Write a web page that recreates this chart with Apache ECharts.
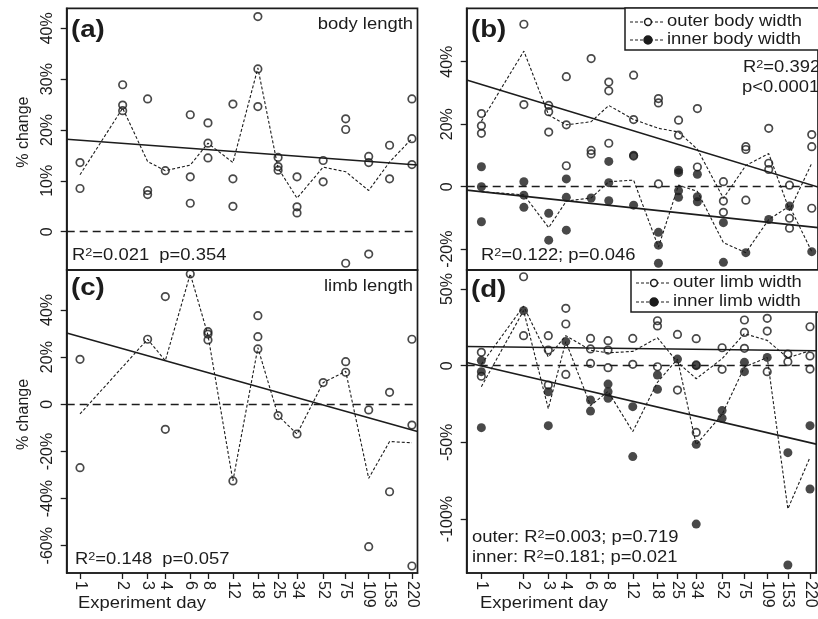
<!DOCTYPE html>
<html>
<head>
<meta charset="utf-8">
<script src="https://cdn.jsdelivr.net/npm/echarts@6/dist/echarts.min.js"></script>
<style>
  html, body { margin: 0; padding: 0; background: #fff; }
  #chart { width: 818px; height: 619px; }
</style>
</head>
<body>
<div id="chart"></div>
<script>
// experiment days (x axis is logarithmic)
const days = [1, 2, 3, 4, 6, 8, 12, 18, 25, 34, 52, 75, 109, 153, 220];

// (a) body length, % change per day
const bodyLength = [
  [13.6, 8.5], [28.9, 24.9, 23.8], [26.1, 8.1, 7.3], [12.0], [23.0, 10.8, 5.6],
  [21.4, 17.4, 14.5], [25.1, 10.4, 5.0], [42.3, 32.0, 24.6], [14.6, 12.8, 12.1], [10.8, 4.9, 3.7],
  [14.0, 9.8], [22.2, 20.1, -6.2], [14.8, 13.6, -4.4], [17.0, 10.4], [26.1, 18.3, 13.2]
];
const bodyLengthMean = [11.2, 24.3, 13.8, 12.0, 13.1, 17.4, 13.6, 32.2, 12.5, 6.6, 12.7, 11.8, 8.1, 13.7, 18.3];
const bodyLengthFit = [18.0, 13.2];   // fitted value at day 1 and day 220

// (b) outer / inner body width
const outerBody = [
  [23.4, 19.5, 17.1], [52.0, 26.3], [26.0, 24.0, 17.5], [35.2, 19.8, 6.7], [41.0, 11.6, 10.5],
  [33.5, 30.7, 13.9], [35.7, 21.5, 9.8], [28.2, 26.8, 0.9], [21.3, 16.5], [25.0, 6.3],
  [1.6, -4.6, -8.2], [12.8, 11.9, -4.3], [18.7, 7.5, 5.5], [0.5, -10.1, -13.3], [16.7, 12.8, -6.9]
];
const outerBodyMean = [21.0, 43.4, 22.9, 19.8, 20.8, 26.0, 21.5, 18.7, 17.5, 12.0, -3.7, 6.8, 10.6, -7.6, 7.5];
const outerBodyFit = [32.7, 0.5];
const innerBody = [
  [6.4, 0, -11.2], [1.6, -2.7, -6.6], [-8.5, -17.1], [2.5, -3.4, -13.9], [-3.6],
  [8.1, 1.3, -4.5], [10.1, -5.9], [-14.6, -18.7, -24.5], [5.3, 4.5, -1.3, -3.4], [4.0, -3.2, -4.8],
  [-11.5, -24.2], [-21.1], [-10.5], [-6.2], [-20.8]
];
const innerBodyMean = [-1.6, -2.6, -13.1, -4.6, -3.6, 1.6, 2.1, -19.3, 0.5, -1.5, -17.9, -21.1, -10.5, -6.2, -20.8];
const innerBodyFit = [-1.6, -12.9];

// (c) limb length (no measurement on day 2)
const limbLength = [
  [19.1, -26.9], [], [27.6], [45.7, -10.6], [55.3],
  [30.8, 29.8, 27.3], [-32.5], [37.6, 28.7, 23.5], [-4.8], [-12.6],
  [9.2], [18.1, 13.6], [-2.4, -60.4], [5.1, -37.1], [27.6, -8.8, -68.6]
];
const limbLengthMean = [-4.1, null, 27.6, 18.5, 55.3, 29.3, -32.5, 24.0, -4.8, -12.6, 9.2, 14.0, -31.4, -15.8, -16.3];
const limbLengthFit = [28.7, -10.9];

// (d) outer / inner limb width
const outerLimb = [
  [8.7, -6.9], [58.0, 19.6], [19.6, 10.2, -12.6], [37.4, 27.2, -5.7], [17.8, 10.9, 1.5],
  [16.3, 10.2, -1.3], [17.8, 0.9], [29.3, 25.9, -0.7], [20.4, -15.9], [17.6, 0.5, -43.5],
  [11.7, -2.4], [29.8, 21.7, 11.3], [30.9, 22.6, -3.9], [7.6, 2.6], [25.4, 6.3, -2.2]
];
const outerLimbMean = [0.9, 38.8, 5.7, 19.6, 10.1, 8.4, 9.3, 18.2, 2.3, -8.5, 4.6, 20.9, 16.5, 5.1, 9.8];
const outerLimbFit = [12.4, 9.8];
const innerLimb = [
  [3.3, -3.9, -40.4], [35.9], [-17.0, -39.1], [15.7], [-22.4, -29.6],
  [-12.0, -17.0, -21.3], [-26.7, -59.3], [-6.1, -15.4], [4.3], [0, -51.3, -103.3],
  [-29.3, -34.3], [2.2, -3.9], [5.4], [-56.7, -130.0], [-39.1, -80.4]
];
const innerLimbMean = [-13.7, 35.9, -28.0, 15.7, -26.0, -16.8, -43.0, -10.8, 4.3, -51.5, -31.8, -0.9, 5.4, -93.4, -59.8];
const innerLimbFit = [-0.2, -50.2];

// y tick values per panel
const ticksA = [0, 10, 20, 30, 40];
const ticksB = [-20, 0, 20, 40];
const ticksC = [-60, -40, -20, 0, 20, 40];
const ticksD = [-100, -50, 0, 50];

const FONT = '"Liberation Sans", Arial, Helvetica, sans-serif';
const INK = '#1c1c1c';
const SX = 1.15; // the original figure is slightly stretched horizontally

const lx = d => Math.log10(d);
const dayTicks = days.map(lx);

function points(groups) {
  const out = [];
  groups.forEach((g, i) => g.forEach(v => out.push([lx(days[i]), v])));
  return out;
}
function meanLine(arr) {
  const out = [];
  arr.forEach((v, i) => { if (v != null) out.push([lx(days[i]), v]); });
  return out;
}
function fitLine(fit, ext) {
  const slope = (fit[1] - fit[0]) / lx(220);
  return ext.map(x => [x, fit[0] + slope * x]);
}
function dayLabel(v) {
  const i = dayTicks.findIndex(t => Math.abs(t - v) < 1e-6);
  return i >= 0 ? String(days[i]) : '';
}

const extL = [-0.0939, 2.3818];
const extR = [-0.1044, 2.3868];

const panels = [
  { grid: { left: 66.7, top: 8.3, width: 350.8, height: 261.7 }, x: extL, y: [-7.53, 43.93], ticks: ticksA, bottom: false, title: true },
  { grid: { left: 466.7, top: 8.3, width: 353, height: 261.7 }, x: extR, y: [-26.66, 57.1], ticks: ticksB, bottom: false, title: false },
  { grid: { left: 66.7, top: 270, width: 350.8, height: 303 }, x: extL, y: [-71.56, 56.97], ticks: ticksC, bottom: true, title: true },
  { grid: { left: 466.7, top: 270, width: 353, height: 303 }, x: extR, y: [-135.2, 62.4], ticks: ticksD, bottom: true, title: false }
];

const grid = panels.map(p => Object.assign({ show: true, borderColor: INK, borderWidth: 1.7, backgroundColor: 'transparent' }, p.grid));

const axisLine = { show: true, onZero: false, lineStyle: { color: INK, width: 1.7 } };

const xAxis = panels.map((p, i) => ({
  type: 'value', gridIndex: i, min: p.x[0], max: p.x[1], position: 'bottom',
  axisLine: axisLine, splitLine: { show: false },
  axisTick: { show: p.bottom, inside: false, customValues: dayTicks, length: 6, lineStyle: { color: INK, width: 1.3 } },
  axisLabel: { show: p.bottom, customValues: dayTicks, rotate: -90, margin: 8, fontSize: 16, color: INK, fontFamily: FONT, formatter: dayLabel }
}));

const yAxis = panels.map((p, i) => ({
  type: 'value', gridIndex: i, min: p.y[0], max: p.y[1], position: 'left',
  axisLine: axisLine, splitLine: { show: false },
  axisTick: { show: true, inside: false, customValues: p.ticks, length: 6, lineStyle: { color: INK, width: 1.3 } },
  axisLabel: { customValues: p.ticks, rotate: 90, margin: 11, fontSize: 16, color: INK, fontFamily: FONT,
    formatter: v => (v === 0 ? '0' : v + '%') },
  name: p.title ? '% change' : '', nameLocation: 'middle', nameGap: 35,
  nameTextStyle: { fontSize: 16, color: INK, fontFamily: FONT, padding: [0, 0, 0, 14] }
}));

const openStyle = { color: 'rgba(255,255,255,0)', borderColor: INK, borderWidth: 1.7 };
const fillStyle = { color: INK };

function scatter(i, groups, open) {
  return { type: 'scatter', xAxisIndex: i, yAxisIndex: i, data: points(groups), symbol: 'circle',
    symbolSize: open ? 7.5 : 9, itemStyle: open ? openStyle : fillStyle, emphasis: { disabled: true }, z: 3 };
}
function dashed(i, arr) {
  return { type: 'line', xAxisIndex: i, yAxisIndex: i, data: meanLine(arr), symbol: 'none',
    lineStyle: { color: INK, width: 1.1, type: [3, 2] }, emphasis: { disabled: true }, z: 2 };
}
function fit(i, f, zero) {
  const s = { type: 'line', xAxisIndex: i, yAxisIndex: i, data: fitLine(f, panels[i].x), symbol: 'none',
    lineStyle: { color: INK, width: 1.6 }, emphasis: { disabled: true }, z: 2 };
  if (zero) {
    s.markLine = { silent: true, symbol: ['none', 'none'], label: { show: false },
      lineStyle: { color: INK, width: 1.3, type: [8, 5] }, data: [{ yAxis: 0 }] };
  }
  return s;
}

const series = [
  scatter(0, bodyLength, true), dashed(0, bodyLengthMean), fit(0, bodyLengthFit, true),
  scatter(1, outerBody, true), dashed(1, outerBodyMean), fit(1, outerBodyFit, true),
  scatter(1, innerBody, false), dashed(1, innerBodyMean), fit(1, innerBodyFit, false),
  scatter(2, limbLength, true), dashed(2, limbLengthMean), fit(2, limbLengthFit, true),
  scatter(3, outerLimb, true), dashed(3, outerLimbMean), fit(3, outerLimbFit, true),
  scatter(3, innerLimb, false), dashed(3, innerLimbMean), fit(3, innerLimbFit, false)
];

// text annotations
const rich = {
  n: { fontSize: 16, fontFamily: FONT, fill: INK, lineHeight: 18 },
  s: { fontSize: 11, fontFamily: FONT, fill: INK, verticalAlign: 'top', lineHeight: 11 }
};
function txt(x, y, text, opts) {
  opts = opts || {};
  return { type: 'text', x: x, y: y, scaleX: SX, z: 100, silent: true,
    style: { text: text, fontSize: opts.size || 16, fontFamily: FONT, fontWeight: opts.bold ? 'bold' : 'normal',
      fill: INK, align: opts.align || 'left', verticalAlign: 'middle', rich: rich } };
}
function legend(x, y, w, h, rows) {
  const els = [{ type: 'rect', shape: { x: x, y: y, width: w, height: h },
    style: { fill: '#fff', stroke: INK, lineWidth: 1.5 }, z: 99, silent: true }];
  rows.forEach(r => {
    els.push({ type: 'line', shape: { x1: x + 5, y1: r.y, x2: x + 39, y2: r.y },
      style: { stroke: INK, lineWidth: 1.1, lineDash: [3, 2] }, z: 100, silent: true });
    els.push({ type: 'circle', shape: { cx: x + 23, cy: r.y, r: r.open ? 3.4 : 4 },
      style: { fill: r.open ? '#fff' : INK, stroke: INK, lineWidth: 1.5 }, z: 101, silent: true });
    els.push(txt(x + 42, r.y, r.label));
  });
  return els;
}

const graphic = [
  txt(71, 30, '(a)', { size: 24, bold: true }),
  txt(413, 25, 'body length', { align: 'right' }),
  txt(72, 256, '{n|R}{s|2}{n|=0.021  p=0.354}'),
  txt(471, 30, '(b)', { size: 24, bold: true }),
  txt(743, 68, '{n|R}{s|2}{n|=0.392}'),
  txt(742, 88, 'p<0.0001'),
  txt(481, 256, '{n|R}{s|2}{n|=0.122; p=0.046}'),
  txt(71, 288, '(c)', { size: 24, bold: true }),
  txt(413, 287, 'limb length', { align: 'right' }),
  txt(75, 560, '{n|R}{s|2}{n|=0.148  p=0.057}'),
  txt(471, 290, '(d)', { size: 24, bold: true }),
  txt(472, 538, '{n|outer: R}{s|2}{n|=0.003; p=0.719}'),
  txt(472, 558, '{n|inner: R}{s|2}{n|=0.181; p=0.021}'),
  txt(78, 604, 'Experiment day'),
  txt(480, 604, 'Experiment day')
].concat(
  legend(625, 8, 200, 42, [{ y: 22, open: true, label: 'outer body width' }, { y: 40, open: false, label: 'inner body width' }]),
  legend(631, 270, 200, 42, [{ y: 283, open: true, label: 'outer limb width' }, { y: 302, open: false, label: 'inner limb width' }])
);

const chart = echarts.init(document.getElementById('chart'), null, { renderer: 'canvas' });
chart.setOption({
  animation: false,
  backgroundColor: '#fff',
  grid: grid,
  xAxis: xAxis,
  yAxis: yAxis,
  series: series,
  graphic: graphic
});
</script>
</body>
</html>
